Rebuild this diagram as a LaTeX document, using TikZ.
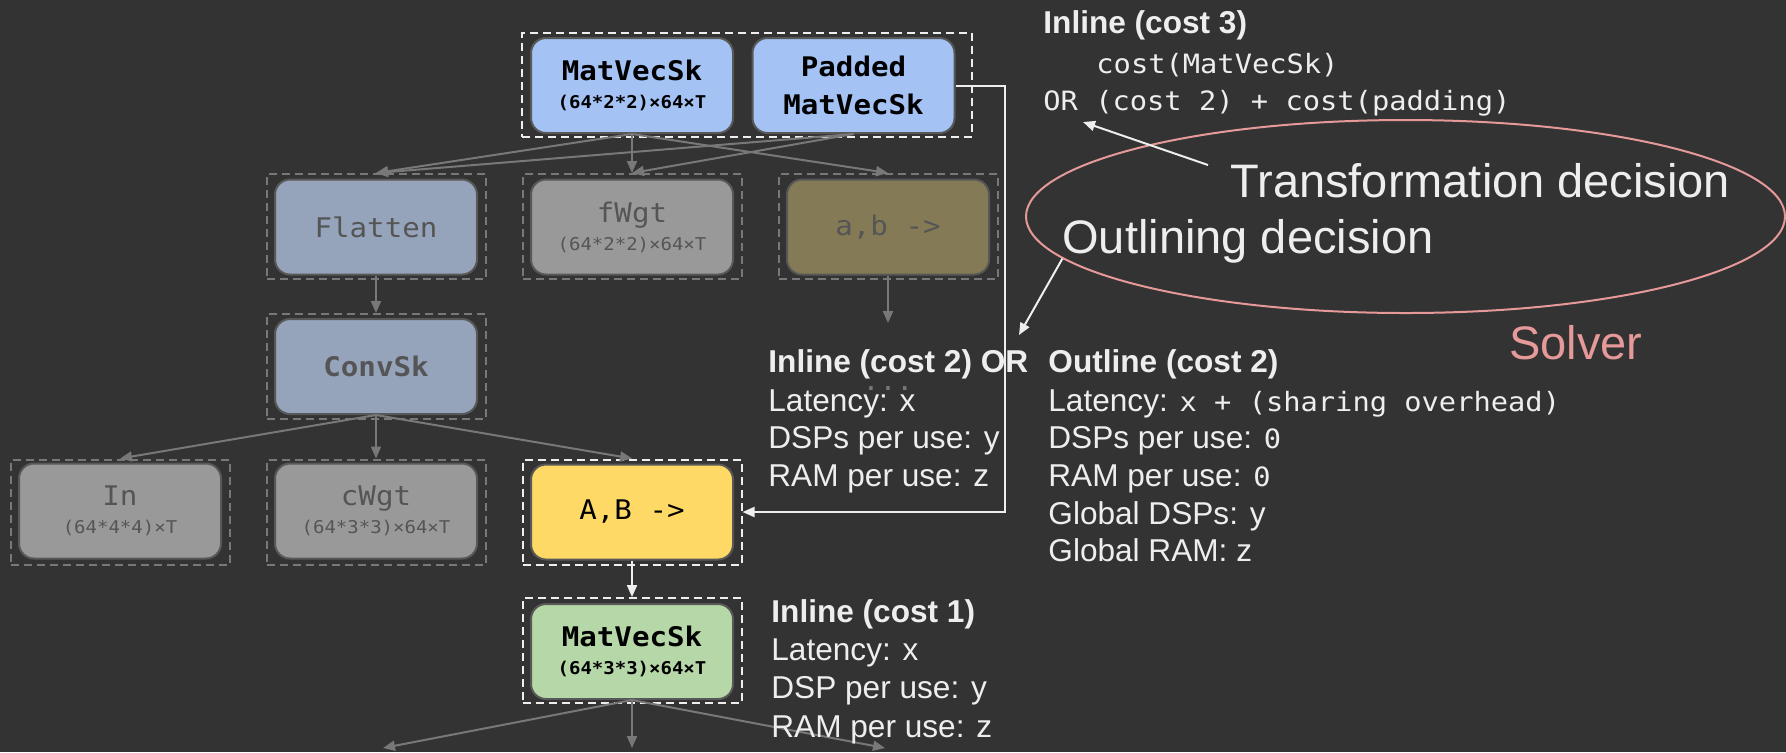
\documentclass[tikz,border=0pt]{standalone}
\usepackage{fontspec}
\setmainfont{Liberation Sans}
\newfontfamily\codefont[FakeStretch=1.08]{DejaVu Sans Mono}
\usetikzlibrary{arrows.meta,shapes.geometric}

\definecolor{bg}{RGB}{51,51,51}
\definecolor{skblue}{RGB}{164,194,244}
\definecolor{fadeblue}{RGB}{149,164,187}
\definecolor{fadegrey}{RGB}{153,153,153}
\definecolor{fadeolive}{RGB}{133,122,86}
\definecolor{abyellow}{RGB}{255,217,102}
\definecolor{skgreen}{RGB}{182,215,168}
\definecolor{rim}{RGB}{88,88,88}
\definecolor{wiregrey}{RGB}{120,120,120}
\definecolor{ink}{RGB}{238,238,238}
\definecolor{dimink}{RGB}{85,85,85}
\definecolor{solverpink}{RGB}{230,153,153}

\newcommand\skdims[1]{{\fontsize{8.8}{10}\selectfont #1}}
\newcommand\skcode{\codefont\fontsize{13.3}{19}\selectfont}

\tikzset{
  sk/.style={draw=rim, line width=1pt, rounded corners=7.5pt, minimum width=101pt,
    minimum height=47.5pt, inner sep=0pt, align=center,
    font=\codefont\fontsize{13.5}{14}\selectfont},
  skbold/.style={font=\codefont\bfseries\fontsize{13.5}{14}\selectfont},
  skgroup/.style={draw=wiregrey, line width=1pt, dash pattern=on 4pt off 2.5pt,
    minimum width=109.5pt, minimum height=52.5pt, inner sep=0pt},
  livegroup/.style={skgroup, draw=ink},
  wire/.style={draw=wiregrey, line width=1pt, -{Triangle[length=6pt,width=5pt]}},
  livewire/.style={wire, draw=ink},
  note/.style={anchor=base west, inner sep=0pt, text=ink, font=\fontsize{15.8}{19}\selectfont},
  decision/.style={note, font=\fontsize{23.5}{28}\selectfont}
}

\begin{document}
\begin{tikzpicture}[x=0.5pt,y=0.5pt,yscale=-1,xscale=1]
\useasboundingbox (0,0) rectangle (1786,752);
\fill[bg] (0,0) rectangle (1786,752);

%Solver ellipse
\node[draw=solverpink, line width=1pt, ellipse, minimum width=379.5pt, minimum height=96.5pt, inner sep=0pt] (solver) at (1405.5,216.5) {};

%Top row: MatVecSk and its padded variant
\node[livegroup, minimum width=225pt, minimum height=52pt] (topG) at (747,85) {};
\node[sk, skbold, fill=skblue] (matTop) at (632,85.5) {MatVecSk\\\skdims{(64*2*2)×64×T}};
\node[sk, skbold, fill=skblue] (padded) at (853.5,85.5) {Padded\\[5pt]MatVecSk};

%Second row
\node[skgroup] (flattenG) at (376,226.5) {};
\node[sk, fill=fadeblue, text=dimink] (flatten) at (376,227) {Flatten};
\node[skgroup] (fwgtG) at (632,226.5) {};
\node[sk, fill=fadegrey, text=dimink] (fwgt) at (632,227) {fWgt\\\skdims{(64*2*2)×64×T}};
\node[skgroup] (abG) at (888,226.5) {};
\node[sk, fill=fadeolive, text=dimink] (ab) at (888,227) {a,b ->};

%Third row
\node[skgroup] (convG) at (376,366.5) {};
\node[sk, skbold, fill=fadeblue, text=dimink] (conv) at (376,366.5) {ConvSk};

%Fourth row
\node[skgroup] (inG) at (120,512) {};
\node[sk, fill=fadegrey, text=dimink] (in) at (120,511) {In\\\skdims{(64*4*4)×T}};
\node[skgroup] (cwgtG) at (376,512) {};
\node[sk, fill=fadegrey, text=dimink] (cwgt) at (376,511) {cWgt\\\skdims{(64*3*3)×64×T}};
\node[livegroup] (abUpG) at (632,512) {};
\node[sk, fill=abyellow, text=black] (abUp) at (632,512) {A,B ->};

%Fifth row
\node[livegroup] (matG) at (632,650.5) {};
\node[sk, skbold, fill=skgreen, text=black] (mat) at (632,651.5) {MatVecSk\\\skdims{(64*3*3)×64×T}};

%Loose ends
\coordinate (abEnd) at (888,323);
\coordinate (route) at (1005,512);
\coordinate (out1) at (383,748);
\coordinate (out2) at (632,748);
\coordinate (out3) at (885,748);
\coordinate (orTip) at (1083,122);
\coordinate (transformTail) at (1208,165);
\coordinate (outlineTip) at (1019,335);

\node[anchor=base, inner sep=0pt, text=wiregrey, font=\codefont\fontsize{13}{14}\selectfont] (abDots) at (888,390) {...};

%Straight Lines
\draw[wire] (matTop.south) -- (flattenG.north);
\draw[wire] (matTop.south) -- (fwgtG.north);
\draw[wire] (matTop.south) -- (abG.north);
\draw[wire] (padded.south) -- (flattenG.north);
\draw[wire] (padded.south) -- (fwgtG.north);
\draw[wire] (flatten.south) -- (convG.north);
\draw[wire] (ab.south) -- (abEnd);
\draw[wire] (conv.south) -- (inG.north);
\draw[wire] (conv.south) -- (cwgtG.north);
\draw[wire] (conv.south) -- (abUpG.north);
\draw[livewire] (abUp.south) -- (matG.north);
\draw[wire] (mat.south) -- (out1);
\draw[wire] (mat.south) -- (out2);
\draw[wire] (mat.south) -- (out3);
\draw[livewire] (padded.east) -| (route) -- (abUpG.east);

% Text Node
\node[note] (inl3) at (1043,33) {\bfseries Inline (cost 3)};
\node[note] (inl3a) at (1096,73) {\skcode cost(MatVecSk)};
\node[note] (inl3b) at (1043,110) {\skcode OR (cost 2) + cost(padding)};

% Text Node
\node[decision] (transform) at (1230,197) {Transformation decision};
\node[decision] (outlining) at (1062,253) {Outlining decision};
\node[decision, text=solverpink] (solverLbl) at (1509,359) {Solver};
\draw[livewire] (transformTail) -- (orTip);
\draw[livewire] (solver.187) -- (outlineTip);

% Text Node
\node[note] (inl2) at (768,372) {\bfseries Inline (cost 2) OR};
\node[note] (inl2lat) at (768,411) {Latency: x};
\node[note] (inl2dsp) at (768,448) {DSPs per use: y};
\node[note] (inl2ram) at (768,486) {RAM per use: z};

% Text Node
\node[note] (outl) at (1048,372) {\bfseries Outline (cost 2)};
\node[note] (outllat) at (1048,411) {Latency: \skcode x + (sharing overhead)};
\node[note] (outldsp) at (1048,448) {DSPs per use: \skcode 0};
\node[note] (outlram) at (1048,486) {RAM per use: \skcode 0};
\node[note] (outlgdsp) at (1048,524) {Global DSPs: y};
\node[note] (outlgram) at (1048,561) {Global RAM: z};

% Text Node
\node[note] (inl1) at (771,622) {\bfseries Inline (cost 1)};
\node[note] (inl1lat) at (771,660) {Latency: x};
\node[note] (inl1dsp) at (771,698) {DSP per use: y};
\node[note] (inl1ram) at (771,737) {RAM per use: z};
\end{tikzpicture}
\end{document}
